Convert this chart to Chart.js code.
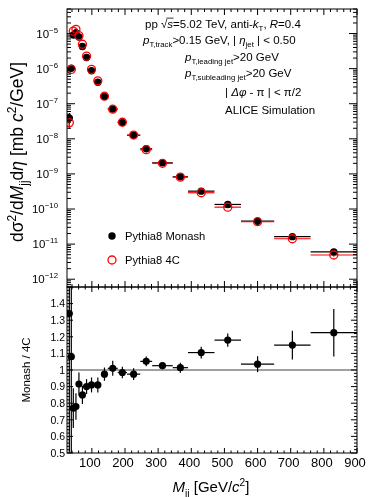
<!DOCTYPE html>
<html>
<head>
<meta charset="UTF-8">
<title>Dijet invariant mass</title>
<script src="https://cdn.jsdelivr.net/npm/chart.js"></script>
<style>
  html, body { margin: 0; padding: 0; background: #fff; }
  #wrap { position: relative; width: 370px; height: 497px; }
  #wrap canvas { position: absolute; left: 0; top: 0; }
</style>
</head>
<body>
<div id="wrap">
  <canvas id="topChart" width="370" height="497"></canvas>
  <canvas id="ratioChart" width="370" height="497"></canvas>
</div>
<script>
// bins in M_jj (GeV/c^2)
const binLow    = [29, 35, 41, 47, 57, 65, 78, 90, 108, 128, 148, 178, 206, 246, 282, 344, 390, 470, 550, 650, 760];
const binHigh   = [35, 41, 47, 57, 65, 78, 90, 108, 128, 148, 178, 206, 246, 282, 344, 390, 470, 550, 650, 760, 900];
const binCenter = [32, 38, 44, 52, 61, 71.5, 84, 99, 118, 138, 163, 192, 226, 264, 313, 367, 430, 510, 600, 705, 830];

// d sigma^2 / dM_jj d eta  [mb c^2/GeV]
const monash    = [3.9e-8, 1.03e-6, 9.1e-6, 1.04e-5, 8.0e-6, 4.25e-6, 2.07e-6, 8.7e-7, 4.1e-7, 1.61e-7, 7.1e-8,
                   2.94e-8, 1.26e-8, 5.2e-9, 2.07e-9, 8.3e-10, 3.23e-10, 1.35e-10, 4.5e-11, 1.63e-11, 6.0e-12];
const monashErr = [1.5e-8, 1.2e-7, 7e-7, 5e-7, 3e-7, 1.5e-7, 6e-8, 2.5e-8, 1.2e-8, 4e-9, 1.8e-9,
                   7e-10, 3e-10, 1.2e-10, 4.5e-11, 1.8e-11, 7e-12, 4e-12, 1.5e-12, 1e-12, 5e-13];
const fourC     = [2.9e-8, 9.5e-7, 1.17e-5, 1.32e-5, 8.7e-6, 4.95e-6, 2.27e-6, 9.5e-7, 4.5e-7, 1.64e-7, 7.0e-8,
                   2.97e-8, 1.28e-8, 4.9e-9, 2.01e-9, 8.1e-10, 2.91e-10, 1.13e-10, 4.35e-11, 1.42e-11, 4.9e-12];
const fourCErr  = [1.0e-8, 1.0e-7, 8e-7, 6e-7, 3e-7, 1.5e-7, 6e-8, 2.5e-8, 1.2e-8, 4e-9, 1.8e-9,
                   7e-10, 3e-10, 1.2e-10, 4.5e-11, 1.8e-11, 7e-12, 4e-12, 1.5e-12, 1e-12, 5e-13];

// Monash / 4C
const ratio     = [1.34, 1.08, 0.77, 0.78, 0.915, 0.85, 0.90, 0.91, 0.91, 0.975, 1.01,
                   0.985, 0.975, 1.052, 1.026, 1.014, 1.105, 1.18, 1.035, 1.15, 1.225];
const ratioErr  = [0.9, 0.9, 0.12, 0.08, 0.07, 0.055, 0.045, 0.045, 0.045, 0.04, 0.045,
                   0.035, 0.035, 0.03, 0.022, 0.03, 0.035, 0.04, 0.048, 0.087, 0.143];

// tick labels
const xTickLabels = [100, 200, 300, 400, 500, 600, 700, 800, 900];
const yExponents  = [-5, -6, -7, -8, -9, -10, -11, -12];
const ratioTicks  = [0.5, 0.6, 0.7, 0.8, 0.9, 1.0, 1.1, 1.2, 1.3, 1.4];

const FONT = '"Liberation Sans", Arial, Helvetica, sans-serif';

function segFont(seg, size) {
  const sz = seg.s ? size * 0.68 : size;
  return (seg.i ? 'italic ' : '') + sz + 'px ' + FONT;
}
function richWidth(ctx, segs, size) {
  let w = 0;
  segs.forEach(seg => { ctx.font = segFont(seg, size); w += ctx.measureText(seg.t).width; });
  return w;
}
// y is the baseline
function drawRich(ctx, segs, x, y, size, align) {
  const w = richWidth(ctx, segs, size);
  let cx = align === 'center' ? x - w / 2 : align === 'right' ? x - w : x;
  ctx.textAlign = 'left';
  ctx.textBaseline = 'alphabetic';
  segs.forEach(seg => {
    ctx.font = segFont(seg, size);
    const dy = seg.s === 'sub' ? size * 0.3 : seg.s === 'sup' ? -size * 0.42 : 0;
    ctx.fillText(seg.t, cx, y + dy);
    const sw = ctx.measureText(seg.t).width;
    if (seg.over) {
      ctx.beginPath();
      ctx.lineWidth = 0.8;
      ctx.moveTo(cx - 1, y - size * 0.86);
      ctx.lineTo(cx + sw + 0.5, y - size * 0.86);
      ctx.stroke();
    }
    cx += sw;
  });
}
function line(ctx, x1, y1, x2, y2) {
  ctx.beginPath(); ctx.moveTo(x1, y1); ctx.lineTo(x2, y2); ctx.stroke();
}
function xTicks(ctx, x, a, major, minor) {
  for (let v = 40; v <= 900; v += 20) {
    const px = x.getPixelForValue(v);
    const len = v % 100 === 0 ? major : minor;
    line(ctx, px, a.top, px, a.top + len);
    line(ctx, px, a.bottom, px, a.bottom - len);
  }
}
function errorBars(ctx, x, y, vals, errs, color) {
  ctx.strokeStyle = color;
  ctx.lineWidth = 1.2;
  vals.forEach((v, i) => {
    const py = y.getPixelForValue(v);
    const px = x.getPixelForValue(binCenter[i]);
    line(ctx, x.getPixelForValue(binLow[i]), py, x.getPixelForValue(binHigh[i]), py);
    line(ctx, px, y.getPixelForValue(v + errs[i]), px, y.getPixelForValue(Math.max(v - errs[i], 1e-14)));
  });
}

const topDecor = {
  id: 'topDecor',
  beforeDatasetsDraw(chart) {
    const { ctx, chartArea: a, scales: { x, y } } = chart;
    ctx.save();
    ctx.beginPath(); ctx.rect(a.left, a.top, a.right - a.left, a.bottom - a.top); ctx.clip();
    errorBars(ctx, x, y, monash, monashErr, '#000');
    errorBars(ctx, x, y, fourC, fourCErr, '#ff0000');
    ctx.restore();
  },
  afterDraw(chart) {
    const { ctx, chartArea: a, scales: { x, y } } = chart;
    ctx.save();
    ctx.strokeStyle = '#000';
    ctx.fillStyle = '#000';
    ctx.lineWidth = 1;
    ctx.strokeRect(a.left, a.top, a.right - a.left, a.bottom - a.top);
    xTicks(ctx, x, a, 6, 3);
    for (let e = -13; e <= -4; e++) {
      for (let m = 1; m <= 9; m++) {
        const v = m * Math.pow(10, e);
        if (v < y.min || v > y.max) continue;
        const py = y.getPixelForValue(v);
        const len = m === 1 ? 8 : 4;
        line(ctx, a.left, py, a.left + len, py);
        line(ctx, a.right, py, a.right - len, py);
      }
    }
    yExponents.forEach(e => {
      const py = y.getPixelForValue(Math.pow(10, e));
      drawRich(ctx, [{ t: '10' }, { t: '\u2212' + Math.abs(e), s: 'sup' }], 58, py + 4, 11.5, 'right');
    });

    // y title
    ctx.save();
    ctx.translate(17, 152);
    ctx.rotate(-Math.PI / 2);
    drawRich(ctx, [{ t: 'd' }, { t: '\u03c3' }, { t: '2', s: 'sup' }, { t: '/d' }, { t: 'M', i: 1 }, { t: 'jj', s: 'sub' },
      { t: 'd' }, { t: '\u03b7', i: 1 }, { t: ' [mb ' }, { t: 'c', i: 1 }, { t: '2', s: 'sup' }, { t: '/GeV]' }], 0, 6, 17.5, 'center');
    ctx.restore();

    // legend
    ctx.beginPath(); ctx.arc(112, 236, 3.7, 0, Math.PI * 2); ctx.fill();
    ctx.strokeStyle = '#ff0000'; ctx.lineWidth = 1.3;
    ctx.beginPath(); ctx.arc(112, 260, 4, 0, Math.PI * 2); ctx.stroke();
    ctx.fillStyle = '#000';
    drawRich(ctx, [{ t: 'Pythia8 Monash' }], 125, 240, 11.2, 'left');
    drawRich(ctx, [{ t: 'Pythia8 4C' }], 125, 264, 11.2, 'left');

    // annotation
    ctx.strokeStyle = '#000';
    const fs = 11.5;
    drawRich(ctx, [{ t: 'pp ' }, { t: '\u221a' }, { t: 's', i: 1, over: 1 }, { t: '=5.02 TeV, anti-' }, { t: 'k', i: 1 }, { t: 'T', s: 'sub' },
      { t: ', ' }, { t: 'R', i: 1 }, { t: '=0.4' }], 145, 28, fs, 'left');
    drawRich(ctx, [{ t: 'p', i: 1 }, { t: 'T,track', s: 'sub' }, { t: '>0.15 GeV, | ' }, { t: '\u03b7', i: 1 }, { t: 'jet', s: 'sub' },
      { t: ' | < 0.50' }], 143, 44, fs, 'left');
    drawRich(ctx, [{ t: 'p', i: 1 }, { t: 'T,leading jet', s: 'sub' }, { t: '>20 GeV' }], 185, 61, fs, 'left');
    drawRich(ctx, [{ t: 'p', i: 1 }, { t: 'T,subleading jet', s: 'sub' }, { t: '>20 GeV' }], 185, 77, fs, 'left');
    drawRich(ctx, [{ t: '| ' }, { t: '\u0394\u03c6', i: 1 }, { t: ' - \u03c0 | < \u03c0/2' }], 225, 96, fs, 'left');
    drawRich(ctx, [{ t: 'ALICE Simulation' }], 225, 114, fs, 'left');
    ctx.restore();
  }
};

const ratioDecor = {
  id: 'ratioDecor',
  beforeDatasetsDraw(chart) {
    const { ctx, chartArea: a, scales: { x, y } } = chart;
    ctx.save();
    ctx.beginPath(); ctx.rect(a.left, a.top, a.right - a.left, a.bottom - a.top); ctx.clip();
    ctx.strokeStyle = '#808080';
    ctx.lineWidth = 1.5;
    line(ctx, a.left, y.getPixelForValue(1), a.right, y.getPixelForValue(1));
    errorBars(ctx, x, y, ratio, ratioErr, '#000');
    ctx.restore();
  },
  afterDraw(chart) {
    const { ctx, chartArea: a, scales: { x, y } } = chart;
    ctx.save();
    ctx.strokeStyle = '#000';
    ctx.fillStyle = '#000';
    ctx.lineWidth = 1;
    ctx.strokeRect(a.left, a.top, a.right - a.left, a.bottom - a.top);
    xTicks(ctx, x, a, 5, 2.5);
    for (let k = 50; k <= 150; k += 2) {
      const py = y.getPixelForValue(k / 100);
      const len = k % 10 === 0 ? 6 : 3;
      line(ctx, a.left, py, a.left + len, py);
      line(ctx, a.right, py, a.right - len, py);
    }
    ratioTicks.forEach(v => {
      const py = y.getPixelForValue(v);
      drawRich(ctx, [{ t: v === 1 ? '1' : v.toFixed(1) }], 65, py + 3.8, 10.5, 'right');
    });
    xTickLabels.forEach(v => {
      drawRich(ctx, [{ t: String(v) }], x.getPixelForValue(v) - 2, 467, 13, 'center');
    });
    drawRich(ctx, [{ t: 'M', i: 1 }, { t: 'jj', s: 'sub' }, { t: ' [GeV/' }, { t: 'c', i: 1 }, { t: '2', s: 'sup' }, { t: ']' }],
      211, 492, 15, 'center');
    ctx.save();
    ctx.translate(26, 370);
    ctx.rotate(-Math.PI / 2);
    drawRich(ctx, [{ t: 'Monash / 4C' }], 0, 4, 11.5, 'center');
    ctx.restore();
    ctx.restore();
  }
};

const baseOptions = (padding, yScale) => ({
  responsive: false,
  animation: false,
  devicePixelRatio: 1,
  events: [],
  layout: { padding },
  plugins: { legend: { display: false }, tooltip: { enabled: false } },
  scales: {
    x: { type: 'linear', min: 25, max: 900, display: false },
    y: yScale
  }
});

new Chart(document.getElementById('topChart'), {
  type: 'scatter',
  data: {
    datasets: [
      {
        label: 'Pythia8 Monash',
        data: binCenter.map((x, i) => ({ x, y: monash[i] })),
        pointRadius: 3.7,
        pointBackgroundColor: '#000',
        pointBorderColor: '#000',
        pointBorderWidth: 0,
        order: 2
      },
      {
        label: 'Pythia8 4C',
        data: binCenter.map((x, i) => ({ x, y: fourC[i] })),
        pointRadius: 4,
        pointBackgroundColor: 'rgba(0,0,0,0)',
        pointBorderColor: '#ff0000',
        pointBorderWidth: 1.3,
        order: 1
      }
    ]
  },
  options: baseOptions({ left: 67, right: 13, top: 9, bottom: 210 },
    { type: 'logarithmic', min: 6.3e-13, max: 5e-5, display: false }),
  plugins: [topDecor]
});

new Chart(document.getElementById('ratioChart'), {
  type: 'scatter',
  data: {
    datasets: [{
      label: 'Monash / 4C',
      data: binCenter.map((x, i) => ({ x, y: ratio[i] })),
      pointRadius: 3.6,
      pointBackgroundColor: '#000',
      pointBorderColor: '#000',
      pointBorderWidth: 0
    }]
  },
  options: baseOptions({ left: 67, right: 13, top: 287, bottom: 44 },
    { type: 'linear', min: 0.5, max: 1.5, display: false }),
  plugins: [ratioDecor]
});
</script>
</body>
</html>
